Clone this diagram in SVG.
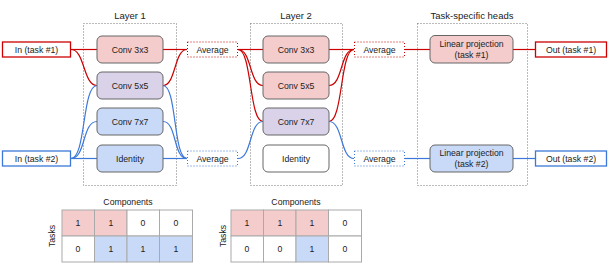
<svg xmlns="http://www.w3.org/2000/svg" width="608" height="264" viewBox="0 0 608 264">
<style>
text{font-family:"Liberation Sans",Arial,sans-serif;fill:#222;text-anchor:middle}
.t{font-size:9.5px}
.l{font-size:8.7px}
.grp{fill:none;stroke:#777;stroke-width:1;stroke-dasharray:1 2}
.n{stroke:#666;stroke-width:1}
.red{fill:#f4cccc}
.pur{fill:#d9d2e9}
.blu{fill:#c9daf8}
.wht{fill:#fff}
.ior{fill:#fff;stroke:#cc0000;stroke-width:1.3}
.iob{fill:#fff;stroke:#3c78d8;stroke-width:1.3}
.avr{fill:#fff;stroke:#cc0000;stroke-width:1;stroke-dasharray:1 2}
.avb{fill:#fff;stroke:#3c78d8;stroke-width:1;stroke-dasharray:1 2}
.er{fill:none;stroke:#cc0000;stroke-width:1.2}
.eb{fill:none;stroke:#3c78d8;stroke-width:1.2}
.cell{stroke:#aaa;stroke-width:1}
</style>

<g id="groups">
<rect class="grp" x="83.5" y="23.5" width="93" height="162"/>
<text class="t" x="130" y="19">Layer 1</text>
<rect class="grp" x="250.5" y="23.5" width="92" height="162"/>
<text class="t" x="296" y="19">Layer 2</text>
<rect class="grp" x="417.5" y="23.5" width="110" height="162"/>
<text class="t" x="472" y="19">Task-specific heads</text>
</g>

<g id="connectors">
<!-- task 1 inputs -->
<path class="er" d="M71,49.5 H97"/>
<path class="er" d="M71,49.5 C85,49.5 83,85.5 97,85.5"/>
<!-- task 2 inputs -->
<path class="eb" d="M71,158.5 C86,158.5 82,85.5 97,85.5"/>
<path class="eb" d="M71,158.5 C86,158.5 82,121.5 97,121.5"/>
<path class="eb" d="M71,158.5 H97"/>
<!-- layer 1 outputs -->
<path class="er" d="M163,49.5 H187"/>
<path class="er" d="M163,85.5 C176,85.5 174,49.5 187,49.5"/>
<path class="eb" d="M163,85.5 C177,85.5 173,158.5 187,158.5"/>
<path class="eb" d="M163,121.5 C177,121.5 173,158.5 187,158.5"/>
<path class="eb" d="M163,158.5 H187"/>
<!-- layer 2 inputs -->
<path class="er" d="M238,49.5 H263"/>
<path class="er" d="M238,49.5 C252,49.5 249,85.5 263,85.5"/>
<path class="er" d="M238,49.5 C252,49.5 249,121.5 263,121.5"/>
<path class="eb" d="M238,158.5 C252,158.5 249,121.5 263,121.5"/>
<!-- layer 2 outputs -->
<path class="er" d="M329,49.5 H354"/>
<path class="er" d="M329,85.5 C343,85.5 340,49.5 354,49.5"/>
<path class="er" d="M329,121.5 C343,121.5 340,49.5 354,49.5"/>
<path class="eb" d="M329,121.5 C343,121.5 340,158.5 354,158.5"/>
<!-- heads -->
<path class="er" d="M405,49.5 H430"/>
<path class="er" d="M513,49.5 H535"/>
<path class="eb" d="M405,158.5 H430"/>
<path class="eb" d="M513,158.5 H535"/>
</g>

<g id="in1"><rect class="ior" x="2.5" y="42" width="68" height="15"/><text class="l" x="36.5" y="52.6">In (task #1)</text></g>
<g id="in2"><rect class="iob" x="2.5" y="151" width="68" height="15"/><text class="l" x="36.5" y="161.6">In (task #2)</text></g>

<g id="l1_conv3"><rect class="n red" x="97" y="36" width="66" height="27" rx="5"/><text class="l" x="130" y="52.6">Conv 3x3</text></g>
<g id="l1_conv5"><rect class="n pur" x="97" y="72" width="66" height="27" rx="5"/><text class="l" x="130" y="88.6">Conv 5x5</text></g>
<g id="l1_conv7"><rect class="n blu" x="97" y="108" width="66" height="27" rx="5"/><text class="l" x="130" y="124.6">Conv 7x7</text></g>
<g id="l1_id"><rect class="n blu" x="97" y="145" width="66" height="27" rx="5"/><text class="l" x="130" y="161.6">Identity</text></g>

<g id="avg1a"><rect class="avr" x="187.5" y="42" width="50" height="15"/><text class="l" x="212.5" y="52.6">Average</text></g>
<g id="avg1b"><rect class="avb" x="187.5" y="151" width="50" height="15"/><text class="l" x="212.5" y="161.6">Average</text></g>

<g id="l2_conv3"><rect class="n red" x="263" y="36" width="66" height="27" rx="5"/><text class="l" x="296" y="52.6">Conv 3x3</text></g>
<g id="l2_conv5"><rect class="n red" x="263" y="72" width="66" height="27" rx="5"/><text class="l" x="296" y="88.6">Conv 5x5</text></g>
<g id="l2_conv7"><rect class="n pur" x="263" y="108" width="66" height="27" rx="5"/><text class="l" x="296" y="124.6">Conv 7x7</text></g>
<g id="l2_id"><rect class="n wht" x="263" y="145" width="66" height="27" rx="5"/><text class="l" x="296" y="161.6">Identity</text></g>

<g id="avg2a"><rect class="avr" x="354.5" y="42" width="50" height="15"/><text class="l" x="379.5" y="52.6">Average</text></g>
<g id="avg2b"><rect class="avb" x="354.5" y="151" width="50" height="15"/><text class="l" x="379.5" y="161.6">Average</text></g>

<g id="head1"><rect class="n red" x="430" y="35.5" width="83" height="27.5" rx="5"/><text class="l" x="471.5" y="47">Linear projection</text><text class="l" x="471.5" y="58">(task #1)</text></g>
<g id="head2"><rect class="n blu" x="430" y="145" width="83" height="27" rx="5"/><text class="l" x="471.5" y="156">Linear projection</text><text class="l" x="471.5" y="167">(task #2)</text></g>

<g id="out1"><rect class="ior" x="535.5" y="42" width="71" height="15"/><text class="l" x="571" y="52.6">Out (task #1)</text></g>
<g id="out2"><rect class="iob" x="535.5" y="151" width="71" height="15"/><text class="l" x="571" y="161.6">Out (task #2)</text></g>

<g id="table1">
<text class="l" x="128" y="205">Components</text>
<text class="l" transform="translate(55,236) rotate(-90)">Tasks</text>
<rect class="cell red" x="62" y="210" width="32.5" height="26"/>
<rect class="cell red" x="94.5" y="210" width="32.5" height="26"/>
<rect class="cell wht" x="127" y="210" width="32.5" height="26"/>
<rect class="cell wht" x="159.5" y="210" width="33" height="26"/>
<rect class="cell wht" x="62" y="236" width="32.5" height="26"/>
<rect class="cell blu" x="94.5" y="236" width="32.5" height="26"/>
<rect class="cell blu" x="127" y="236" width="32.5" height="26"/>
<rect class="cell blu" x="159.5" y="236" width="33" height="26"/>
<text class="l" x="78" y="226">1</text><text class="l" x="111" y="226">1</text><text class="l" x="143" y="226">0</text><text class="l" x="176" y="226">0</text>
<text class="l" x="78" y="252">0</text><text class="l" x="111" y="252">1</text><text class="l" x="143" y="252">1</text><text class="l" x="176" y="252">1</text>
</g>

<g id="table2">
<text class="l" x="296" y="205">Components</text>
<text class="l" transform="translate(226,236) rotate(-90)">Tasks</text>
<rect class="cell red" x="231" y="210" width="32.5" height="26"/>
<rect class="cell red" x="263.5" y="210" width="32.5" height="26"/>
<rect class="cell red" x="296" y="210" width="32.5" height="26"/>
<rect class="cell wht" x="328.5" y="210" width="33" height="26"/>
<rect class="cell wht" x="231" y="236" width="32.5" height="26"/>
<rect class="cell wht" x="263.5" y="236" width="32.5" height="26"/>
<rect class="cell blu" x="296" y="236" width="32.5" height="26"/>
<rect class="cell wht" x="328.5" y="236" width="33" height="26"/>
<text class="l" x="247" y="226">1</text><text class="l" x="280" y="226">1</text><text class="l" x="312" y="226">1</text><text class="l" x="345" y="226">0</text>
<text class="l" x="247" y="252">0</text><text class="l" x="280" y="252">0</text><text class="l" x="312" y="252">1</text><text class="l" x="345" y="252">0</text>
</g>
</svg>
